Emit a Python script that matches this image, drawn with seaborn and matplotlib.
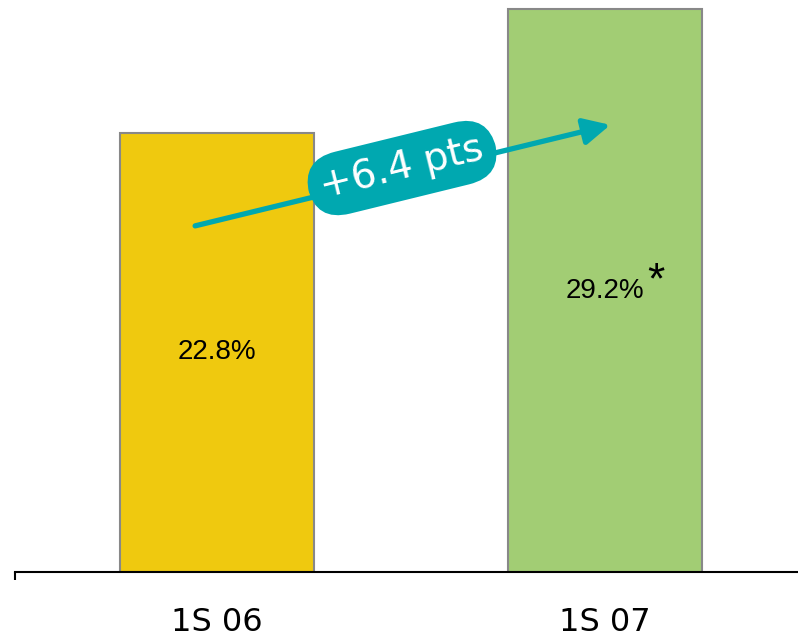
import seaborn as sns
import matplotlib.pyplot as plt

periods = ["1S 06", "1S 07"]
values = [22.8, 29.2]
value_labels = ["22.8%", "29.2%"]
bar_colors = ["#EFC90F", "#A2CD74"]
change_label = "+6.4 pts"

sns.set_style("white")
plt.rcParams['font.family'] = ['DejaVu Sans']

fig = plt.figure(figsize=(7.98, 6.41), dpi=100)
ax = fig.add_axes([15 / 798, 69 / 641, 783 / 798, 572 / 641])

sns.barplot(x=periods, y=values, hue=periods, palette=bar_colors, width=0.5,
            saturation=1, edgecolor="#888888", linewidth=1.5, legend=False, ax=ax)

ax.set_xlim(-0.52, 1.497)
ax.set_ylim(0, 29.68)

# value labels at mid-height
for i, (v, lab) in enumerate(zip(values, value_labels)):
    ax.text(i, v / 2, lab, ha="center", va="center", fontsize=20,
            family="Liberation Sans", color="black")
ax.text(1.132, values[1] / 2 + 0.45, "*", ha="center", va="center",
        fontsize=32, family="Liberation Sans", color="black")

# change arrow
teal = "#00A8B0"
ax.annotate("", xy=(1.0135, 23.2), xytext=(-0.056, 17.96),
            arrowprops=dict(arrowstyle="-|>,head_length=1.6,head_width=0.8",
                            color=teal, lw=3.8, shrinkA=0, shrinkB=0))
ax.text(0.477, 20.96, change_label, ha="center", va="center", rotation=13.8,
        rotation_mode="anchor", fontsize=28, color="white",
        bbox=dict(boxstyle="round,pad=0.33,rounding_size=0.9", fc=teal, ec="none"))

# axes styling
for s in ["top", "right", "left"]:
    ax.spines[s].set_visible(False)
ax.spines["bottom"].set_color("black")
ax.spines["bottom"].set_linewidth(1.5)
ax.set_yticks([])
ax.set_xticks([0, 1])
ax.set_xticklabels(periods, fontsize=23)
ax.tick_params(axis="x", which="major", bottom=True, length=0, pad=25, colors="black")
ax.set_xticks([-0.52], minor=True)
ax.tick_params(axis="x", which="minor", bottom=True, length=6, width=1.5, color="black")
ax.set_xlabel("")
ax.set_ylabel("")

fig.savefig("out.png", dpi=100)
